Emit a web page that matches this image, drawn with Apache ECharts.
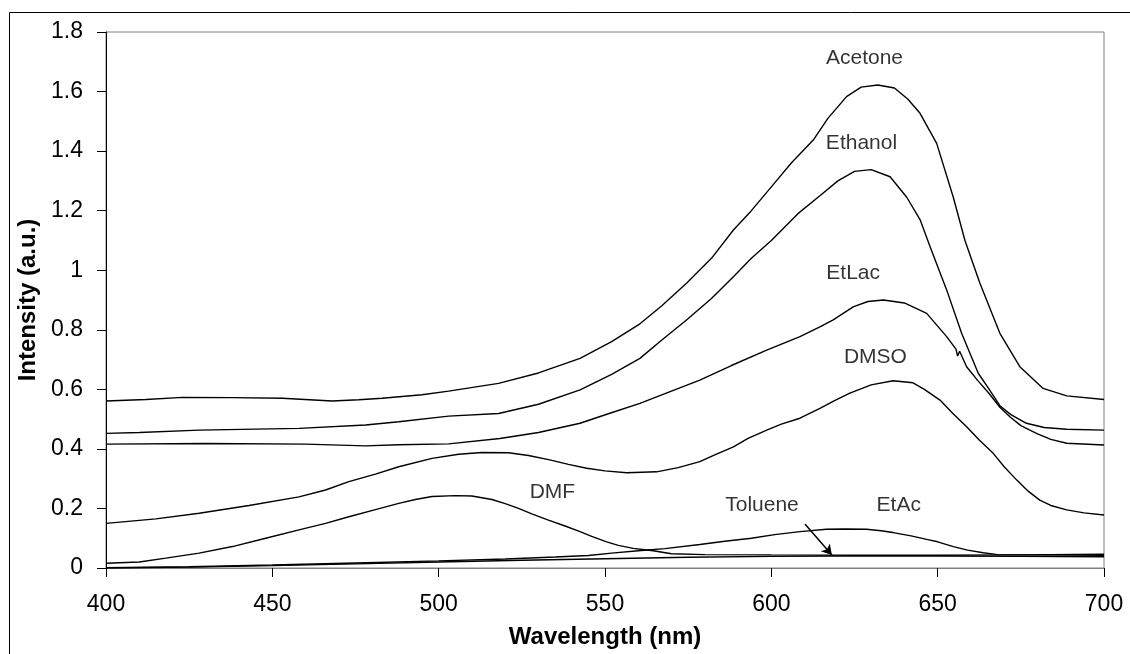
<!DOCTYPE html>
<html>
<head>
<meta charset="utf-8">
<script src="https://cdn.jsdelivr.net/npm/echarts@6/dist/echarts.min.js"></script>
<style>
html,body{margin:0;padding:0;background:#fff;}
#chart{width:1130px;height:654px;}
</style>
</head>
<body>
<div id="chart"></div>
<script>
// ---- data (wavelength nm, intensity a.u.) ----
var acetone = [[400,0.561],[412,0.566],[423,0.573],[438,0.572],[453,0.570],[468,0.561],[476,0.565],[483,0.570],[495,0.582],[503,0.594],[518,0.620],[530,0.655],[542.5,0.704],[552,0.760],[560.5,0.820],[567,0.880],[574.5,0.956],[582,1.040],[588.6,1.135],[594,1.200],[600,1.280],[606,1.360],[612.6,1.437],[617,1.510],[622.6,1.583],[627,1.615],[632,1.622],[637,1.612],[641,1.575],[644.7,1.527],[649.7,1.426],[654.7,1.245],[658.2,1.100],[662.7,0.956],[668.7,0.788],[674.7,0.676],[681.7,0.603],[688.8,0.578],[700,0.566]];
var ethanol = [[400,0.452],[410,0.455],[428,0.463],[458,0.469],[478,0.480],[488,0.491],[503,0.510],[518,0.519],[530,0.550],[542.5,0.598],[552,0.650],[560.5,0.704],[567,0.765],[574.5,0.833],[582,0.905],[588.6,0.978],[594,1.040],[600,1.100],[608,1.190],[614.6,1.250],[620,1.300],[625,1.332],[630,1.338],[635.7,1.314],[640.7,1.245],[644.7,1.170],[647.7,1.080],[652.7,0.934],[657.2,0.788],[662.2,0.654],[665.5,0.600],[668.7,0.545],[672,0.515],[676.7,0.486],[682,0.472],[688.8,0.466],[700,0.463]];
var etlac = [[400,0.416],[430,0.418],[460,0.416],[478,0.410],[488,0.414],[503,0.417],[518.4,0.435],[530,0.455],[542.5,0.486],[551,0.518],[560.5,0.553],[569,0.590],[578.5,0.631],[588,0.680],[598.6,0.732],[608.6,0.777],[614.6,0.810],[618.6,0.833],[624.6,0.877],[629,0.895],[633.7,0.900],[640,0.890],[646.7,0.855],[652.7,0.777],[655.5,0.735],[656,0.712],[656.6,0.728],[658.7,0.676],[662,0.630],[665.4,0.587],[668.7,0.540],[671.7,0.508],[675,0.478],[679.7,0.452],[684,0.432],[688.8,0.419],[700,0.413]];
var dmso = [[400,0.150],[415,0.165],[428,0.184],[443,0.210],[458,0.239],[466,0.262],[473,0.290],[481,0.315],[488,0.340],[498,0.368],[506,0.382],[513,0.388],[521,0.387],[527,0.378],[533.4,0.363],[539,0.348],[544.5,0.335],[550,0.326],[556.5,0.320],[565.5,0.323],[572,0.337],[578.5,0.357],[583,0.380],[588.6,0.407],[593,0.435],[598.6,0.463],[603,0.483],[608.6,0.503],[614.6,0.536],[619,0.562],[623.6,0.587],[630,0.615],[636.6,0.629],[642.6,0.622],[646,0.600],[650.7,0.564],[654.5,0.520],[658.7,0.474],[662.5,0.430],[666.7,0.385],[670,0.340],[673.7,0.296],[677,0.260],[680.7,0.228],[684,0.210],[688.8,0.195],[694,0.185],[700,0.178]];
var dmf = [[400,0.016],[410,0.020],[418,0.033],[428,0.050],[438,0.072],[448,0.100],[458,0.128],[466,0.150],[473,0.172],[481,0.196],[488,0.217],[493,0.230],[498,0.240],[505,0.243],[510,0.242],[516,0.230],[520,0.216],[524,0.200],[528,0.182],[533,0.161],[538,0.141],[542.5,0.122],[546,0.106],[550.5,0.088],[554,0.076],[558.5,0.066],[564.5,0.058],[570,0.048],[580,0.045],[600,0.044],[625,0.043],[650,0.043],[675,0.044],[700,0.046]];
var toluene = [[400,0.000],[425,0.003],[450,0.008],[475,0.014],[500,0.020],[525,0.026],[550,0.031],[575,0.036],[600,0.039],[618,0.040],[650,0.040],[675,0.039],[700,0.038]];
var etac = [[400,0.001],[425,0.004],[450,0.010],[475,0.017],[500,0.024],[520,0.030],[535,0.037],[545,0.042],[552,0.050],[560,0.058],[568,0.065],[578.5,0.079],[586,0.090],[594,0.100],[601,0.112],[608.6,0.122],[616.6,0.130],[622,0.131],[628.6,0.130],[633,0.125],[636.6,0.119],[642,0.108],[646.7,0.096],[650,0.088],[654.7,0.072],[659,0.060],[663.7,0.051],[668,0.045],[680,0.044],[700,0.043]];

var seriesNames = ['Acetone','Ethanol','EtLac','DMSO','DMF','Toluene','EtAc'];
var seriesData = [acetone, ethanol, etlac, dmso, dmf, toluene, etac];

// label anchor points (data coords)
var labelPoints = [[628.0,1.713,'Acetone'],[627.1,1.427,'Ethanol'],[624.6,0.991,'EtLac'],[631.3,0.707,'DMSO'],[534.2,0.256,'DMF'],[597.2,0.212,'Toluene'],[638.3,0.212,'EtAc']];
// arrow from Toluene label to its curve
var arrowStart = [610.1,0.148];
var arrowEnd = [618.2,0.044];

var FONT = 'Liberation Sans, Arial, sans-serif';
var chart = echarts.init(document.getElementById('chart'), null, {renderer:'canvas'});

var series = seriesData.map(function(d, i){
  return {
    name: seriesNames[i], type:'line', data:d, showSymbol:false, symbol:'none',
    lineStyle:{color:'#000', width:1.4}, z:3, animation:false
  };
});
series.push({
  type:'scatter', data:labelPoints, symbolSize:0, animation:false, z:5,
  label:{show:true, position:'inside', formatter:function(p){return p.data[2];},
    color:'#000', fontSize:21, fontFamily:FONT}
});
series.push({
  type:'line', data:[arrowStart, arrowEnd], showSymbol:false, symbol:'none',
  lineStyle:{width:0}, animation:false,
  markLine:{silent:true, symbol:['none','arrow'], symbolSize:[9,10], animation:false,
    lineStyle:{color:'#000', width:1.5, type:'solid'}, label:{show:false},
    data:[[{coord:arrowStart},{coord:arrowEnd}]]}
});

chart.setOption({
  backgroundColor:'#fff',
  animation:false,
  grid:{left:106, right:26, top:32, bottom:86, show:true, borderColor:'#808080', borderWidth:1, backgroundColor:'transparent'},
  xAxis:{
    type:'value', min:400, max:700, interval:50,
    name:'Wavelength (nm)', nameLocation:'middle', nameGap:57,
    nameTextStyle:{fontSize:24, fontWeight:'bold', color:'#000', fontFamily:FONT},
    axisLine:{show:true, onZero:false, lineStyle:{color:'#808080', width:1}},
    axisTick:{show:true, inside:false, length:9, lineStyle:{color:'#000'}},
    axisLabel:{fontSize:23, color:'#000', margin:25, fontFamily:FONT},
    splitLine:{show:false}
  },
  yAxis:{
    type:'value', min:0, max:1.8, interval:0.2,
    name:'Intensity (a.u.)', nameLocation:'middle', nameGap:64,
    nameTextStyle:{fontSize:24, fontWeight:'bold', color:'#000', fontFamily:FONT},
    axisLine:{show:true, lineStyle:{color:'#000', width:1}},
    axisTick:{show:true, inside:false, length:9, lineStyle:{color:'#000'}},
    axisLabel:{fontSize:23, color:'#000', margin:23, fontFamily:FONT,
      formatter:function(v){ return String(Math.round(v*10)/10); }},
    splitLine:{show:false}
  },
  graphic:[{type:'rect', left:7, top:10, shape:{width:1200, height:700}, style:{fill:'none', stroke:'#000', lineWidth:1}, silent:true, z:-1}],
  series:series
});
</script>
</body>
</html>
